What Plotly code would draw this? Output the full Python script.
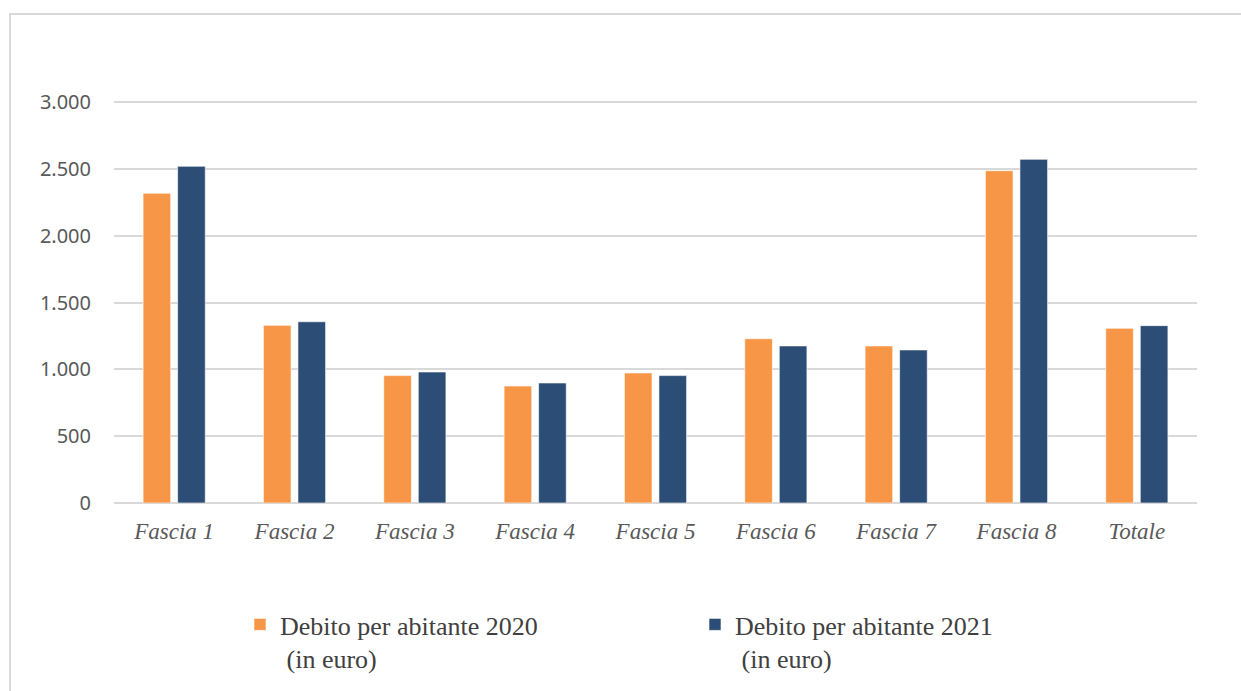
import plotly.graph_objects as go

categories = ["Fascia 1", "Fascia 2", "Fascia 3", "Fascia 4", "Fascia 5",
              "Fascia 6", "Fascia 7", "Fascia 8", "Totale"]
debito_2020 = [2317, 1329, 953, 875, 973, 1229, 1175, 2486, 1307]
debito_2021 = [2519, 1356, 980, 898, 953, 1175, 1145, 2571, 1327]
y_ticks = [0, 500, 1000, 1500, 2000, 2500, 3000]
y_tick_labels = ["0", "500", "1.000", "1.500", "2.000", "2.500", "3.000"]

ORANGE = "#F79646"
BLUE = "#2C4D75"
GRID = "#d9d9d9"

W, H = 1241, 691
ML, MR, MT, MB = 114, 44, 100, 188
PW, PH = W - ML - MR, H - MT - MB

fig = go.Figure()
fig.add_trace(go.Bar(
    x=categories, y=debito_2020,
    name="Debito per abitante 2020<br> (in euro)",
    marker=dict(color=ORANGE, line=dict(color="rgba(255,255,255,0.6)", width=1)),
))
fig.add_trace(go.Bar(
    x=categories, y=debito_2021,
    name="Debito per abitante 2021<br> (in euro)",
    marker=dict(color=BLUE, line=dict(color="rgba(255,255,255,0.6)", width=1)),
))

fig.update_layout(
    width=W, height=H,
    margin=dict(l=ML, r=MR, t=MT, b=MB),
    paper_bgcolor="white", plot_bgcolor="white",
    barmode="group", bargap=0.426, bargroupgap=0.2,
    showlegend=True,
    legend=dict(
        orientation="h",
        xref="container", x=240 / W, xanchor="left",
        yref="container", y=1 - 601 / H, yanchor="top",
        font=dict(family="Liberation Serif", size=26, color="#404040"),
        itemwidth=30, entrywidth=410, valign="top",
        bgcolor="rgba(0,0,0,0)",
    ),
    xaxis=dict(
        showgrid=False, showline=False, ticks="",
        tickfont=dict(family="Liberation Serif", size=23, color="#595959",
                      style="italic"),
        ticklabelstandoff=12,
    ),
    yaxis=dict(
        range=[0, 3015], tickvals=y_ticks, ticktext=y_tick_labels,
        showgrid=True, gridcolor=GRID, gridwidth=1.5,
        zeroline=True, zerolinecolor=GRID, zerolinewidth=1.5,
        showline=False, ticks="",
        tickfont=dict(family="Noto Sans", size=20, color="#595959"),
        ticklabelstandoff=22,
    ),
    shapes=[dict(
        type="rect", xref="paper", yref="paper",
        x0=(10 - ML) / PW, x1=1.2,
        y0=(H - MB - 720) / PH, y1=(H - MB - 14) / PH,
        line=dict(color=GRID, width=2), fillcolor="rgba(0,0,0,0)", layer="below",
    )],
)

fig.write_html("out.html")
